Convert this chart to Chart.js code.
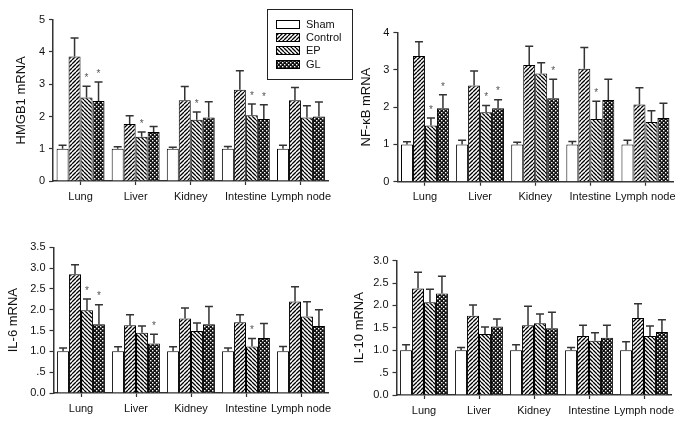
<!DOCTYPE html>
<html lang="en">
<head>
<meta charset="UTF-8">
<title>mRNA expression</title>
<script src="https://cdn.jsdelivr.net/npm/chart.js"></script>
<style>
  body { margin: 0; background: #fff; }
  #page { position: relative; width: 685px; height: 422px; }
  .panel { position: absolute; }
</style>
</head>
<body>
<div id="page">
  <div class="panel" style="left:0;top:0;width:360px;height:210px"><canvas id="hmgb1Chart"></canvas></div>
  <div class="panel" style="left:345px;top:0;width:340px;height:210px"><canvas id="nfkbChart"></canvas></div>
  <div class="panel" style="left:0;top:210px;width:345px;height:212px"><canvas id="il6Chart"></canvas></div>
  <div class="panel" style="left:345px;top:210px;width:340px;height:212px"><canvas id="il10Chart"></canvas></div>
</div>

<script>
// categories and groups
const organs = ['Lung', 'Liver', 'Kidney', 'Intestine', 'Lymph node'];
const groups = ['Sham', 'Control', 'EP', 'GL'];

// means, rows = Sham, Control, EP, GL
const hmgb1Mean = [
    [1.0, 1.0, 1.0, 1.0, 1.0],
    [3.86, 1.77, 2.5, 2.83, 2.5],
    [2.59, 1.37, 1.9, 2.04, 1.97],
    [2.48, 1.52, 1.97, 1.92, 2.0]
];
// upper error (SEM) above each mean
const hmgb1Err = [
    [0.11, 0.06, 0.05, 0.07, 0.11],
    [0.57, 0.25, 0.43, 0.59, 0.4],
    [0.35, 0.15, 0.24, 0.35, 0.36],
    [0.59, 0.17, 0.49, 0.44, 0.45]
];
// asterisks (significance) per group
const hmgb1Star = [
    [0, 0, 0, 0, 0],
    [0, 0, 0, 0, 0],
    [1, 1, 1, 1, 0],
    [1, 0, 0, 1, 0]
];

const nfkbMean = [
    [1.0, 1.0, 1.0, 1.0, 1.0],
    [3.37, 2.58, 3.13, 3.03, 2.07],
    [1.51, 1.86, 2.9, 1.68, 1.6],
    [1.97, 1.97, 2.24, 2.19, 1.71]
];
const nfkbErr = [
    [0.07, 0.11, 0.06, 0.08, 0.11],
    [0.38, 0.39, 0.5, 0.57, 0.45],
    [0.2, 0.18, 0.29, 0.48, 0.3],
    [0.36, 0.23, 0.51, 0.56, 0.39]
];
const nfkbStar = [
    [0, 0, 0, 0, 0],
    [0, 0, 0, 0, 0],
    [1, 1, 0, 1, 0],
    [1, 1, 1, 0, 0]
];

const il6Mean = [
    [1.0, 1.0, 1.0, 1.0, 1.0],
    [2.85, 1.63, 1.79, 1.7, 2.2],
    [1.99, 1.45, 1.49, 1.12, 1.84],
    [1.65, 1.19, 1.65, 1.32, 1.61]
];
const il6Err = [
    [0.08, 0.11, 0.11, 0.08, 0.12],
    [0.23, 0.25, 0.25, 0.18, 0.35],
    [0.27, 0.16, 0.19, 0.19, 0.35],
    [0.47, 0.22, 0.43, 0.35, 0.39]
];
const il6Star = [
    [0, 0, 0, 0, 0],
    [0, 0, 0, 0, 0],
    [1, 0, 0, 1, 0],
    [1, 1, 0, 0, 0]
];

const il10Mean = [
    [1.0, 1.0, 1.0, 1.0, 1.0],
    [2.38, 1.77, 1.56, 1.32, 1.72],
    [2.07, 1.36, 1.6, 1.21, 1.32],
    [2.27, 1.53, 1.49, 1.28, 1.41]
];
const il10Err = [
    [0.12, 0.06, 0.12, 0.06, 0.19],
    [0.36, 0.24, 0.42, 0.24, 0.32],
    [0.29, 0.16, 0.21, 0.18, 0.22],
    [0.38, 0.17, 0.36, 0.28, 0.27]
];
const il10Star = [
    [0, 0, 0, 0, 0],
    [0, 0, 0, 0, 0],
    [0, 0, 0, 0, 0],
    [0, 0, 0, 0, 0]
];

// tick labels
const ticks5 = ['0', '1', '2', '3', '4', '5'];
const ticks4 = ['0', '1', '2', '3', '4'];
const ticksIL6 = ['0.0', '.5', '1.0', '1.5', '2.0', '2.5', '3.0', '3.5'];
const ticksIL10 = ['0.0', '.5', '1.0', '1.5', '2.0', '2.5', '3.0'];

const FONT = "'Liberation Sans', Arial, sans-serif";
const AXIS = '#333';

// hatch fills
function stripes(forward, size, lw) {
    const c = document.createElement('canvas');
    c.width = c.height = size;
    const g = c.getContext('2d');
    g.fillStyle = '#fff';
    g.fillRect(0, 0, size, size);
    g.strokeStyle = '#000';
    g.lineWidth = lw;
    g.beginPath();
    for (let k = -1; k <= 1; k++) {
        if (forward) {
            g.moveTo(k * size, size);
            g.lineTo(k * size + size, 0);
        } else {
            g.moveTo(k * size, 0);
            g.lineTo(k * size + size, size);
        }
    }
    g.stroke();
    return g.createPattern(c, 'repeat');
}

function checker() {
    const c = document.createElement('canvas');
    c.width = c.height = 4;
    const g = c.getContext('2d');
    g.fillStyle = '#111';
    g.fillRect(0, 0, 4, 4);
    g.fillStyle = '#fff';
    g.fillRect(0, 0, 1.4, 1.4);
    g.fillRect(2, 2, 1.4, 1.4);
    return g.createPattern(c, 'repeat');
}

const fills = ['#ffffff', stripes(true, 4, 1.3), stripes(false, 4, 1.3), checker()];

// error bars and asterisks on top of the bars
const errorBars = {
    id: 'errorBars',
    afterDatasetsDraw(chart, args, opts) {
        const ctx = chart.ctx;
        const yScale = chart.scales.y;
        ctx.save();
        chart.data.datasets.forEach((ds, i) => {
            const meta = chart.getDatasetMeta(i);
            meta.data.forEach((bar, j) => {
                const top = yScale.getPixelForValue(ds.data[j] + opts.err[i][j]);
                ctx.strokeStyle = '#333';
                ctx.lineWidth = 1.5;
                ctx.beginPath();
                ctx.moveTo(bar.x, bar.y);
                ctx.lineTo(bar.x, top);
                ctx.moveTo(bar.x - 4, top);
                ctx.lineTo(bar.x + 4, top);
                ctx.stroke();
                if (opts.star[i][j]) {
                    ctx.fillStyle = '#555';
                    ctx.font = '10px ' + FONT;
                    ctx.textAlign = 'center';
                    ctx.textBaseline = 'middle';
                    ctx.fillText('*', bar.x, top - 8);
                }
            });
        });
        ctx.restore();
    }
};

// legend box in the first panel
const groupLegend = {
    id: 'groupLegend',
    afterDraw(chart) {
        const ctx = chart.ctx;
        ctx.save();
        ctx.fillStyle = '#fff';
        ctx.fillRect(267, 9, 85, 70);
        ctx.strokeStyle = '#222';
        ctx.lineWidth = 1;
        ctx.strokeRect(267.5, 9.5, 85, 70);
        const rows = [24, 37, 50, 64];
        groups.forEach((name, i) => {
            ctx.fillStyle = fills[i];
            ctx.fillRect(276, rows[i] - 4, 23, 8);
            ctx.strokeStyle = '#000';
            ctx.strokeRect(276.5, rows[i] - 3.5, 23, 8);
            ctx.fillStyle = '#111';
            ctx.font = '11px ' + FONT;
            ctx.textAlign = 'left';
            ctx.textBaseline = 'middle';
            ctx.fillText(name, 306, rows[i] + 0.5);
        });
        ctx.restore();
    }
};

function makeChart(id, opt) {
    const datasets = groups.map((g, i) => ({
        label: g,
        data: opt.mean[i],
        backgroundColor: fills[i],
        borderColor: '#000',
        borderWidth: 1,
        categoryPercentage: 0.87,
        barPercentage: 1.0
    }));
    return new Chart(document.getElementById(id), {
        type: 'bar',
        data: { labels: organs, datasets: datasets },
        plugins: opt.legend ? [errorBars, groupLegend] : [errorBars],
        options: {
            responsive: true,
            maintainAspectRatio: false,
            animation: false,
            layout: { padding: { top: opt.top, right: opt.right, left: 0, bottom: 0 } },
            plugins: {
                legend: { display: false },
                tooltip: { enabled: false },
                errorBars: { err: opt.err, star: opt.star }
            },
            scales: {
                x: {
                    afterFit(s) { s.height = opt.xh; },
                    grid: { drawOnChartArea: false, offset: false, color: AXIS, tickLength: 4, tickWidth: 1.2 },
                    border: { color: AXIS, width: 1.5 },
                    ticks: { color: '#111', padding: 5, maxRotation: 0, autoSkip: false, font: { family: FONT, size: 11 } }
                },
                y: {
                    min: 0,
                    max: opt.max,
                    afterFit(s) { s.width = opt.yw; },
                    grid: { drawOnChartArea: false, color: AXIS, tickLength: 4, tickWidth: 1.2 },
                    border: { color: AXIS, width: 1.5 },
                    ticks: {
                        stepSize: opt.step,
                        color: '#111',
                        padding: 4,
                        font: { family: FONT, size: 11 },
                        callback: (v, i) => opt.ticks[i]
                    },
                    title: {
                        display: true,
                        text: opt.title,
                        color: '#111',
                        padding: { top: opt.titlePad, bottom: 0 },
                        font: { family: FONT, size: 13 }
                    }
                }
            }
        }
    });
}

makeChart('hmgb1Chart', {
    mean: hmgb1Mean, err: hmgb1Err, star: hmgb1Star, ticks: ticks5,
    max: 5, step: 1, title: 'HMGB1 mRNA', legend: true,
    top: 19.7, right: 31.5, yw: 53, xh: 29, titlePad: 14
});
makeChart('nfkbChart', {
    mean: nfkbMean, err: nfkbErr, star: nfkbStar, ticks: ticks4,
    max: 4, step: 1, title: 'NF-κB mRNA',
    top: 32.5, right: 12, yw: 52.4, xh: 28.3, titlePad: 14
});
makeChart('il6Chart', {
    mean: il6Mean, err: il6Err, star: il6Star, ticks: ticksIL6,
    max: 3.5, step: 0.5, title: 'IL-6 mRNA',
    top: 37.3, right: 16.5, yw: 53.5, xh: 29, titlePad: 6
});
makeChart('il10Chart', {
    mean: il10Mean, err: il10Err, star: il10Star, ticks: ticksIL10,
    max: 3, step: 0.5, title: 'IL-10 mRNA',
    top: 50.7, right: 13.5, yw: 51.5, xh: 27, titlePad: 7
});
</script>
</body>
</html>
